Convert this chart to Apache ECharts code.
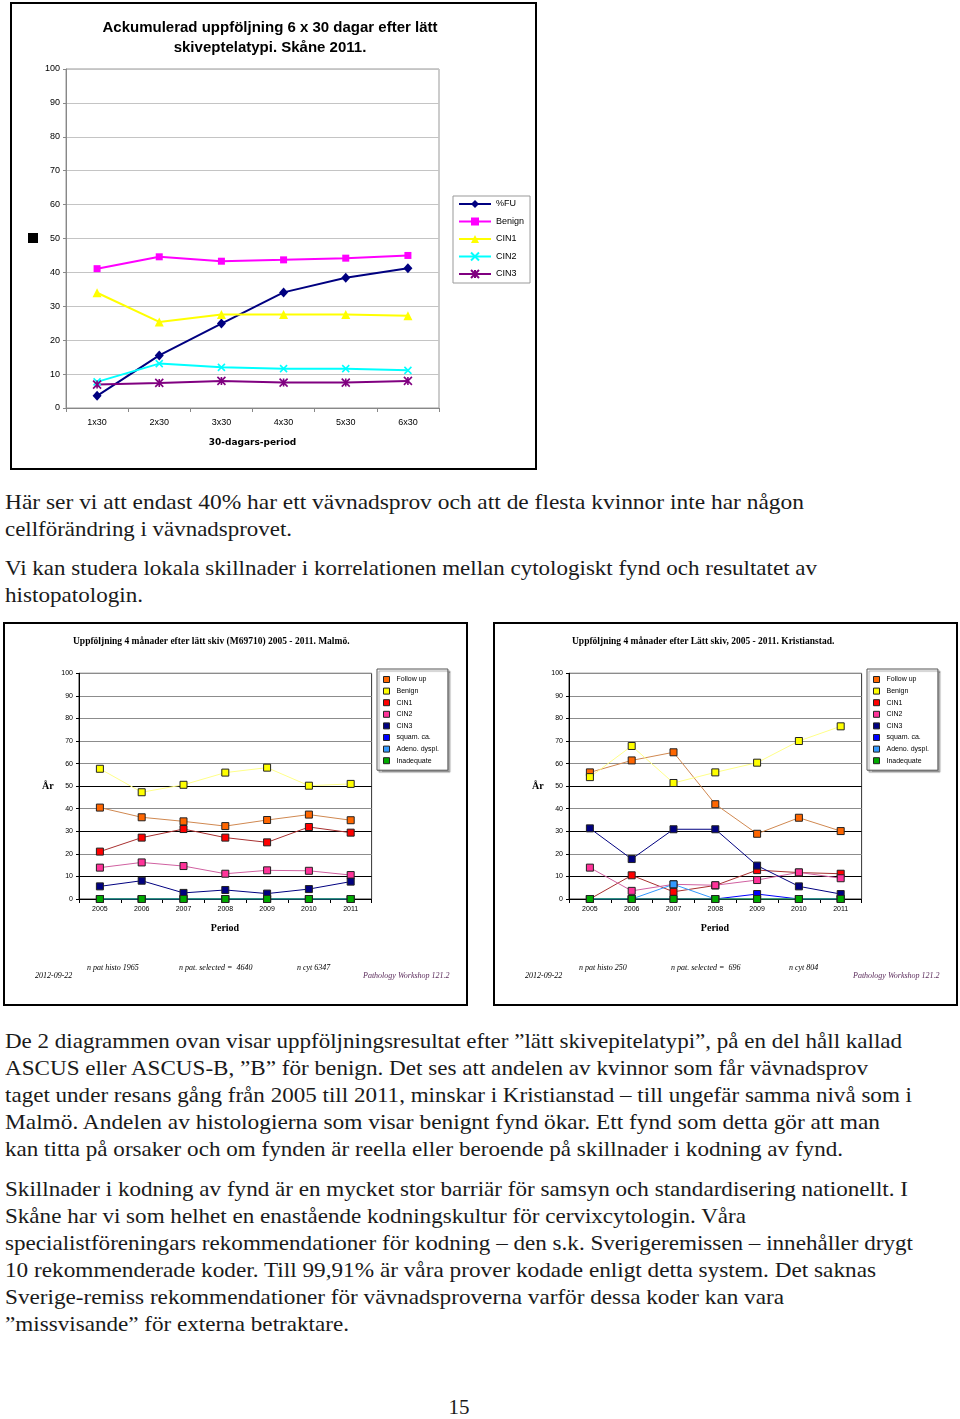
<!DOCTYPE html>
<html><head><meta charset="utf-8">
<script src="https://cdn.jsdelivr.net/npm/echarts@6/dist/echarts.min.js"></script>
<style>
body{margin:0;background:#fff;width:960px;height:1419px;position:relative;overflow:hidden;}
.box{position:absolute;border:2px solid #000;box-sizing:border-box;pointer-events:none;}
.chart{position:absolute;}
.tl{position:absolute;left:5px;white-space:nowrap;font-family:"Liberation Serif",serif;font-size:21px;line-height:27px;color:#1a1a1a;transform-origin:0 50%;}
#pg{position:absolute;left:0;width:918px;text-align:center;top:1394px;font-family:"Liberation Serif",serif;font-size:21px;line-height:27px;color:#1a1a1a;}
</style></head><body>
<div id="c1" class="chart" style="left:0;top:0;width:540px;height:472px;"></div>
<div id="c2" class="chart" style="left:0;top:620px;width:480px;height:390px;"></div>
<div id="c3" class="chart" style="left:490px;top:620px;width:470px;height:390px;"></div>
<div class="box" style="left:10px;top:2px;width:527px;height:468px;"></div>
<div class="box" style="left:3px;top:622px;width:465px;height:384px;"></div>
<div class="box" style="left:493px;top:622px;width:465px;height:384px;"></div>
<div id="text"></div>
<div id="pg">15</div>
<script>
// ---------- data: top chart ----------
const topCategories = ['1x30','2x30','3x30','4x30','5x30','6x30'];
const topSeriesNames = ['%FU','Benign','CIN1','CIN2','CIN3'];
const topFU     = [3.6, 15.5, 24.9, 34.1, 38.4, 41.2];
const topBenign = [41.1, 44.6, 43.3, 43.7, 44.2, 45.0];
const topCIN1   = [34.0, 25.4, 27.6, 27.6, 27.6, 27.2];
const topCIN2   = [7.7, 13.1, 12.0, 11.6, 11.6, 11.1];
const topCIN3   = [6.9, 7.4, 8.0, 7.5, 7.5, 8.0];

// ---------- data: bottom charts ----------
const years = ['2005','2006','2007','2008','2009','2010','2011'];
const bottomSeriesNames = ['Follow up','Benign','CIN1','CIN2','CIN3','squam. ca.','Adeno. dyspl.','Inadequate'];
const malmoFollowUp   = [40.5, 36.2, 34.4, 32.3, 35.0, 37.4, 34.9];
const malmoBenign     = [57.7, 47.3, 50.6, 56.0, 58.2, 50.2, 51.0];
const malmoCIN1       = [21.0, 27.2, 31.0, 27.2, 25.1, 31.9, 29.4];
const malmoCIN2       = [13.9, 16.2, 14.6, 11.2, 12.7, 12.5, 10.6];
const malmoCIN3       = [5.6, 8.1, 2.7, 4.0, 2.4, 4.4, 7.7];
const malmoSquam      = [0, 0, 0, 0, 0, 0, 0];
const malmoAdeno      = [0, 0, 0, 0, 0, 0, 0];
const malmoInadequate = [0, 0, 0, 0, 0, 0, 0];

const kristFollowUp   = [56.1, 61.4, 65.0, 42.0, 28.9, 36.0, 30.1];
const kristBenign     = [54.0, 67.8, 51.4, 56.1, 60.4, 70.0, 76.5];
const kristCIN1       = [0, 10.5, 3.2, 6.0, 12.8, 11.7, 11.2];
const kristCIN2       = [13.9, 3.6, 6.5, 6.1, 8.4, 11.8, 9.2];
const kristCIN3       = [31.3, 17.7, 30.9, 30.9, 14.8, 5.6, 2.2];
const kristSquam      = [0, 0, 0, 0, 2.2, 0, 0];
const kristAdeno      = [0, 0, 6.5, 0, 0, 0, 0];
const kristInadequate = [0, 0, 0, 0, 0, 0, 0];

const malmoFooter = ['2012-09-22','n pat histo 1965','n pat. selected =  4640','n cyt 6347','Pathology Workshop 121.2'];
const kristFooter = ['2012-09-22','n pat histo 250','n pat. selected =  696','n cyt 804','Pathology Workshop 121.2'];

// ---------- page text ----------
const textLines = [
 'Här ser vi att endast 40% har ett vävnadsprov och att de flesta kvinnor inte har någon',
 'cellförändring i vävnadsprovet.',
 'Vi kan studera lokala skillnader i korrelationen mellan cytologiskt fynd och resultatet av',
 'histopatologin.',
 'De 2 diagrammen ovan visar uppföljningsresultat efter ”lätt skivepitelatypi”, på en del håll kallad',
 'ASCUS eller ASCUS-B, ”B” för benign. Det ses att andelen av kvinnor som får vävnadsprov',
 'taget under resans gång från 2005 till 2011, minskar i Kristianstad – till ungefär samma nivå som i',
 'Malmö. Andelen av histologierna som visar benignt fynd ökar. Ett fynd som detta gör att man',
 'kan titta på orsaker och om fynden är reella eller beroende på skillnader i kodning av fynd.',
 'Skillnader i kodning av fynd är en mycket stor barriär för samsyn och standardisering nationellt. I',
 'Skåne har vi som helhet en enastående kodningskultur för cervixcytologin. Våra',
 'specialistföreningars rekommendationer för kodning – den s.k. Sverigeremissen – innehåller drygt',
 '10 rekommenderade koder. Till 99,91% är våra prover kodade enligt detta system. Det saknas',
 'Sverige-remiss rekommendationer för vävnadsproverna varför dessa koder kan vara',
 '”missvisande” för externa betraktare.'
];
const textCenters = [502,529,568,595,1041,1068,1095,1122,1149,1189,1216,1243,1270,1297,1324];
const textRight = [804,292,817,143,902,868,912,880,843,908,746,913,876,784,349];

const holder = document.getElementById('text');
textLines.forEach((t,i)=>{
  const d = document.createElement('div');
  d.className = 'tl';
  d.textContent = t;
  d.style.top = (textCenters[i]-13)+'px';
  holder.appendChild(d);
  const w = d.getBoundingClientRect().width;
  d.style.transform = 'scaleX(' + ((textRight[i]-5)/w) + ')';
});

// ---------- top chart ----------
const SANS = 'Liberation Sans';
const SERIF = 'Liberation Serif';
const topColors = ['#000080','#FF00FF','#FFFF00','#00FFFF','#800080'];
const topSymbols = ['diamond','rect','triangle','path://M0,0L10,10M10,0L0,10','path://M0,0L10,10M10,0L0,10M5,0L5,10'];
const topSymbolSizes = [[9,10],7,9,7,8];
const topData = [topFU, topBenign, topCIN1, topCIN2, topCIN3];

const c1 = echarts.init(document.getElementById('c1'), null, {renderer:'canvas'});
c1.setOption({
  animation:false,
  title:{
    text:'Ackumulerad uppföljning 6 x 30 dagar efter lätt\nskiveptelatypi. Skåne 2011.',
    left:'center', top:13,
    textStyle:{fontFamily:SANS, fontSize:15, fontWeight:'bold', color:'#000', lineHeight:20}
  },
  grid:{left:66, top:69, width:373, height:339, show:true, borderColor:'#999', borderWidth:1},
  legend:{
    orient:'vertical', left:453, top:196, padding:[3,6,4,5],
    itemWidth:32, itemHeight:10, itemGap:7.5,
    borderColor:'#999', borderWidth:1, backgroundColor:'#fff',
    textStyle:{fontFamily:SANS, fontSize:9, color:'#000', lineHeight:10},
    data:topSeriesNames
  },
  xAxis:{
    type:'category', data:topCategories, boundaryGap:true,
    name:'30-dagars-period', nameLocation:'middle', nameGap:30,
    nameTextStyle:{fontFamily:'DejaVu Sans', fontSize:9, fontWeight:'bold', color:'#000'},
    axisLine:{lineStyle:{color:'#888'}},
    axisTick:{show:true, interval:0, length:4, lineStyle:{color:'#888'}},
    axisLabel:{fontFamily:SANS, fontSize:9, color:'#000', margin:10}
  },
  yAxis:{
    type:'value', min:0, max:100, interval:10,
    axisLine:{show:true, lineStyle:{color:'#888'}},
    axisTick:{show:true, length:3, lineStyle:{color:'#888'}},
    axisLabel:{fontFamily:SANS, fontSize:9, color:'#000', margin:6},
    splitLine:{show:true, lineStyle:{color:'#c4c4c4', width:1}}
  },
  graphic:[{type:'rect', shape:{x:28, y:233, width:10, height:10}, style:{fill:'#000'}}],
  series: topSeriesNames.map((n,i)=>({
    type:'line', name:n, data:topData[i],
    symbol:topSymbols[i], symbolSize:topSymbolSizes[i],
    lineStyle:{width:2, color:topColors[i]},
    itemStyle:{color:topColors[i], borderColor:topColors[i], borderWidth:(i>=3?1.6:0)}
  }))
});

// ---------- bottom charts ----------
const bottomFill = ['#FF6600','#FFFF00','#FF0000','#FF3399','#000080','#0000FF','#3399FF','#00AA00'];
const bottomLine = ['#D08850','#FFFF88','#A83030','#D060A0','#000080','#0000FF','#3399FF','#22AA22'];
const splitColors = ['#000','#000','#8c8c8c','#000','#8c8c8c','#000','#8c8c8c','#8c8c8c','#8c8c8c','#8c8c8c','#8c8c8c'];

function bottomOption(title, titleX, seriesData, footer, footerX) {
  const fs = {fontFamily:SERIF, fontStyle:'italic', fontSize:8, fill:'#000'};
  return {
    animation:false,
    grid:{left:79, top:53.3, width:292.6, height:225.7, show:true, borderColor:'#333', borderWidth:1},
    legend:{
      orient:'vertical', left:377, top:49, padding:[7,9,6,6],
      itemWidth:6, itemHeight:6, itemGap:4.6, icon:'rect',
      itemStyle:{borderColor:'#222', borderWidth:1},
      borderColor:'#555', borderWidth:1, backgroundColor:'#fff',
      shadowColor:'rgba(0,0,0,0.35)', shadowOffsetX:2, shadowOffsetY:2, shadowBlur:1,
      textStyle:{fontFamily:SANS, fontSize:7, color:'#000', padding:[0,0,0,2]},
      data:bottomSeriesNames
    },
    xAxis:{
      type:'category', data:years, boundaryGap:true,
      axisLine:{lineStyle:{color:'#000'}},
      axisTick:{show:true, interval:0, length:4, lineStyle:{color:'#000'}},
      axisLabel:{fontFamily:SANS, fontSize:7, color:'#000', margin:7}
    },
    yAxis:{
      type:'value', min:0, max:100, interval:10,
      axisLine:{show:true, lineStyle:{color:'#000'}},
      axisTick:{show:true, length:3, lineStyle:{color:'#000'}},
      axisLabel:{fontFamily:SANS, fontSize:7, color:'#000', margin:6},
      splitLine:{show:true, lineStyle:{color:splitColors, width:1}}
    },
    graphic:[
      {type:'text', x:titleX, y:22, style:{text:title, fontFamily:SERIF, fontWeight:'bold', fontSize:9.5, fill:'#000', verticalAlign:'middle'}},
      {type:'text', x:42, y:166, style:{text:'År', fontFamily:SERIF, fontWeight:'bold', fontSize:10, fill:'#000', verticalAlign:'middle'}},
      {type:'text', x:225, y:308, style:{text:'Period', fontFamily:SERIF, fontWeight:'bold', fontSize:10, fill:'#000', align:'center', verticalAlign:'middle'}},
      {type:'text', x:footerX[0], y:356, style:Object.assign({text:footer[0], verticalAlign:'middle'}, fs)},
      {type:'text', x:footerX[1], y:348, style:Object.assign({text:footer[1], verticalAlign:'middle'}, fs)},
      {type:'text', x:footerX[2], y:348, style:Object.assign({text:footer[2], verticalAlign:'middle'}, fs)},
      {type:'text', x:footerX[3], y:348, style:Object.assign({text:footer[3], verticalAlign:'middle'}, fs)},
      {type:'text', x:footerX[4], y:356, style:Object.assign({}, fs, {text:footer[4], fill:'#5a2a5a', verticalAlign:'middle'})}
    ],
    series: bottomSeriesNames.map((n,i)=>({
      type:'line', name:n, data:seriesData[i],
      symbol:'rect', symbolSize:7,
      lineStyle:{width:1, color:bottomLine[i]},
      itemStyle:{color:bottomFill[i], borderColor:'#222', borderWidth:1}
    }))
  };
}

const c2 = echarts.init(document.getElementById('c2'));
c2.setOption(bottomOption('Uppföljning 4 månader efter lätt skiv (M69710) 2005 - 2011. Malmö.', 73,
  [malmoFollowUp, malmoBenign, malmoCIN1, malmoCIN2, malmoCIN3, malmoSquam, malmoAdeno, malmoInadequate],
  malmoFooter, [35, 87, 179, 297, 363]));

const c3 = echarts.init(document.getElementById('c3'));
c3.setOption(bottomOption('Uppföljning 4 månader efter Lätt skiv, 2005 - 2011. Kristianstad.', 82,
  [kristFollowUp, kristBenign, kristCIN1, kristCIN2, kristCIN3, kristSquam, kristAdeno, kristInadequate],
  kristFooter, [35, 89, 181, 299, 363]));
</script>
</body></html>
